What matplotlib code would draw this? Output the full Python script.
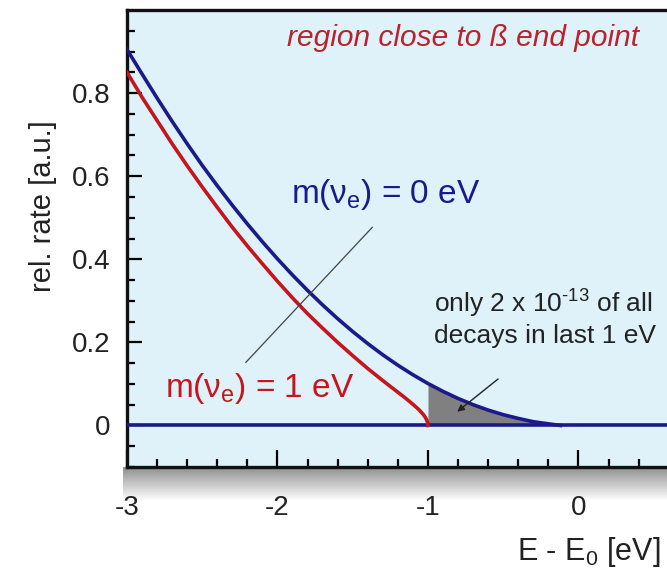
"""
beta_endpoint_plot.py

Tritium beta spectrum near the end point, m(nu_e) = 0 eV vs 1 eV.
"""
import numpy as np
import matplotlib
matplotlib.use("Agg")
import matplotlib.pyplot as plt

# ============================================================
# DATA
# ============================================================
# m(nu_e) = 0 eV curve
e_m0 = [-3.0, -2.9, -2.8, -2.7, -2.6, -2.5, -2.4, -2.3, -2.2, -2.1,
        -2.0, -1.9, -1.8, -1.7, -1.6, -1.5, -1.4, -1.3, -1.2, -1.1,
        -1.0, -0.9, -0.8, -0.7, -0.6, -0.5, -0.4, -0.3, -0.2, -0.12]
rate_m0 = [0.905, 0.846, 0.788, 0.732, 0.678, 0.626, 0.577, 0.530, 0.485, 0.442,
           0.401, 0.362, 0.325, 0.290, 0.257, 0.226, 0.197, 0.170, 0.145, 0.122,
           0.101, 0.082, 0.065, 0.050, 0.037, 0.026, 0.017, 0.009, 0.004, 0.0]

# m(nu_e) = 1 eV curve
e_m1 = [-3.0, -2.9, -2.8, -2.7, -2.6, -2.5, -2.4, -2.3, -2.2, -2.1,
        -2.0, -1.9, -1.8, -1.7, -1.6, -1.5, -1.4, -1.3, -1.2, -1.15,
        -1.1, -1.06, -1.03, -1.015, -1.005, -1.0]
rate_m1 = [0.850, 0.790, 0.734, 0.678, 0.625, 0.574, 0.525, 0.477, 0.432, 0.389,
           0.347, 0.307, 0.269, 0.234, 0.200, 0.168, 0.137, 0.108, 0.080, 0.066,
           0.051, 0.038, 0.026, 0.018, 0.010, 0.0]

x_ticks = [-3, -2, -1, 0]
y_ticks = [0, 0.2, 0.4, 0.6, 0.8]
y_tick_labels = ["0", "0.2", "0.4", "0.6", "0.8"]

# ============================================================
# STYLE
# ============================================================
BLUE = "#1c1a8a"
RED = "#c4161c"
BG = "#dff2f9"
TXT = "#222222"
LW = 2.6

plt.rcParams["font.family"] = ["Liberation Sans", "DejaVu Sans"]
plt.rcParams["mathtext.fontset"] = "custom"
plt.rcParams["mathtext.rm"] = "Liberation Sans"
plt.rcParams["mathtext.it"] = "Liberation Sans:italic"
plt.rcParams["axes.unicode_minus"] = False

fig = plt.figure(figsize=(6.67, 5.76), dpi=100)

# soft grey shadow under the frame
sh = fig.add_axes([0.185, 0.13, 0.86, 0.06])
grad = np.linspace(0.55, 1.0, 50).reshape(-1, 1)
sh.imshow(grad, aspect="auto", cmap="gray", vmin=0, vmax=1, extent=[0, 1, 0, 1])
sh.set_axis_off()

ax = fig.add_axes([0.1904, 0.1892, 0.9025, 0.7934])
ax.set_facecolor(BG)
ax.set_xlim(-3, 1)
ax.set_ylim(-0.1, 1.0)

# baseline
ax.axhline(0, color=BLUE, lw=LW, zorder=3)

# shaded area: last eV for m = 0
e0 = np.array(e_m0)
r0 = np.array(rate_m0)
sel = e0 >= -1.0
ax.fill_between(e0[sel], 0, r0[sel], color="#808080", lw=0, zorder=2)

ax.plot(e_m0, rate_m0, color=BLUE, lw=LW, zorder=4)
ax.plot(e_m1, rate_m1, color=RED, lw=LW, zorder=4)

# pointer line crossing both curves
ax.plot([-1.37, -2.21], [0.477, 0.152], color="#444444", lw=0.9, zorder=5)

# arrow into the shaded area
ax.annotate("", xy=(-0.82, 0.029), xytext=(-0.52, 0.116),
            arrowprops=dict(arrowstyle="-|>", color="#222222", lw=1.0,
                            mutation_scale=10), zorder=6)

# texts
ax.text(-1.91, 0.535, r"m($\mathregular{\nu_e}$) = 0 eV", color=BLUE,
        fontsize=24, ha="left", va="baseline")
ax.text(-2.75, 0.068, r"m($\mathregular{\nu_e}$) = 1 eV", color=RED,
        fontsize=24, ha="left", va="baseline")
ax.text(-0.96, 0.272, r"only 2 x 10$^{\text{-13}}$ of all", color=TXT,
        fontsize=19, ha="left", va="baseline")
ax.text(-0.96, 0.198, "decays in last 1 eV", color=TXT,
        fontsize=19, ha="left", va="baseline")
fig.text(0.43, 0.921, "region close to ß end point", color="#b8232c",
         fontsize=21.5, style="italic", ha="left", va="baseline")

# axes, ticks
ax.set_xticks(x_ticks)
ax.set_xticks(np.arange(-3, 1.01, 0.2), minor=True)
ax.set_yticks(y_ticks)
ax.set_yticklabels(y_tick_labels)
ax.set_yticks(np.arange(-0.1, 1.0, 0.05), minor=True)
ax.tick_params(which="both", direction="in", colors="black", labelcolor=TXT,
               labelsize=20, width=1.6, top=False, right=False)
ax.tick_params(axis="x", which="major", length=12, pad=20)
ax.tick_params(axis="x", which="minor", length=6)
ax.tick_params(axis="y", which="major", length=11, pad=12)
ax.tick_params(axis="y", which="minor", length=6)
for s in ax.spines.values():
    s.set_linewidth(2.4)
    s.set_color("#111111")

fig.text(0.064, 0.642, "rel. rate [a.u.]", fontsize=21, color=TXT,
         rotation=90, ha="center", va="center")
fig.text(0.99, 0.028, r"E - E$_\mathregular{0}$ [eV]", fontsize=22,
         color=TXT, ha="right", va="baseline")

fig.savefig("out.png", dpi=100, facecolor="white")
